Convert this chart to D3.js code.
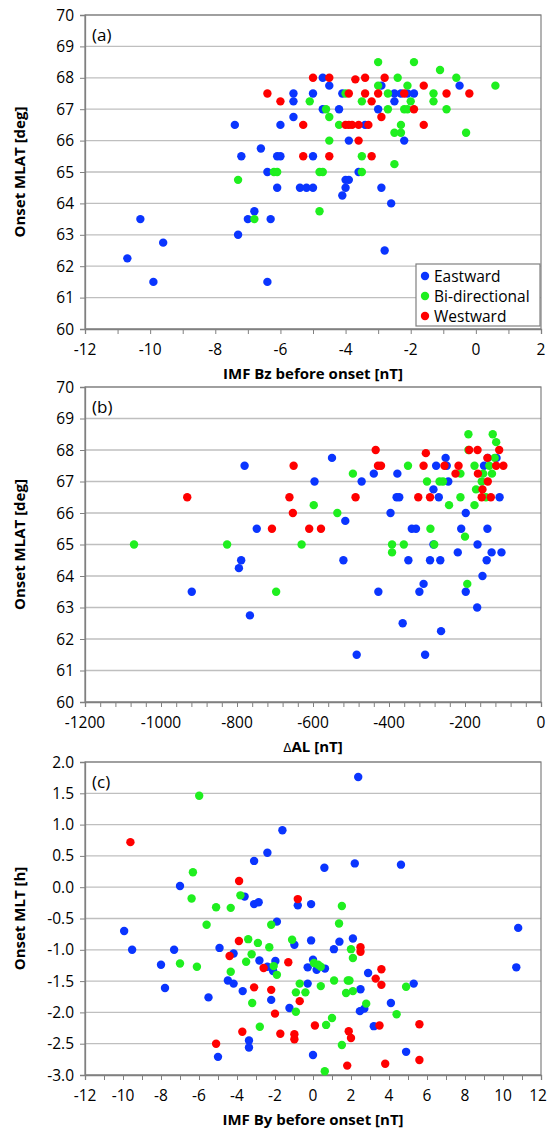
<!DOCTYPE html>
<html>
<head>
<meta charset="utf-8">
<script src="https://cdn.jsdelivr.net/npm/d3@7"></script>
<style>
  body { margin: 0; background: #fff; }
  svg { font-family: "Open Sans", Lato, sans-serif; }
  .tick-label { font-size: 15.5px; fill: #000; }
  .axis-title { font-size: 15px; font-weight: bold; fill: #000; }
</style>
</head>
<body>
<svg id="chart" width="548" height="1128"></svg>
<script>
// ---- data ----
var seriesNames = ['Eastward', 'Bi-directional', 'Westward'];
var seriesColors = ['#0a35ff', '#1fef1f', '#ff0000'];

// panel (a): IMF Bz [nT] vs onset MLAT [deg]
var bzEast = [[-7.4,66.5],[-7.2,65.5],[-6.6,65.75],[-6.4,65],[-6.1,65.5],[-6.0,65.5],[-6.1,64.5],[-6.0,66.5],[-5.6,67.5],[-5.6,67.25],[-5.6,66.75],[-5.4,64.5],[-5.2,64.5],[-5.0,64.5],[-5.0,67.5],[-5.0,65.5],[-4.7,68],[-4.5,67.75],[-4.7,67],[-4.2,67],[-4.1,67.5],[-3.9,66],[-4.0,64.75],[-3.9,64.75],[-4.0,64.5],[-4.1,64.25],[-3.6,65],[-3.4,66.5],[-3.0,67],[-2.9,67.75],[-2.9,64.5],[-2.5,67.25],[-2.5,67.5],[-2.3,67.5],[-2.2,66],[-2.1,67.5],[-1.9,67.5],[-0.5,67.75],[-2.6,64],[-10.7,62.25],[-10.3,63.5],[-9.9,61.5],[-9.6,62.75],[-7.3,63],[-7.0,63.5],[-6.8,63.75],[-6.3,63.5],[-6.4,61.5],[-2.8,62.5]];
var bzBi = [[-7.3,64.75],[-5.1,67.25],[-4.6,67],[-4.5,66.75],[-4.5,66],[-4.2,66.5],[-4.0,67.5],[-4.8,65],[-4.7,65],[-6.2,65],[-6.1,65],[-3.5,65.5],[-3.5,65],[-3.5,67.25],[-3.0,68.5],[-3.0,67.75],[-2.7,67.5],[-2.7,67],[-2.4,68],[-2.5,66.25],[-2.3,66.5],[-2.3,66.25],[-2.5,65.25],[-2.1,67.75],[-2.0,67.25],[-2.2,67],[-2.1,67],[-1.9,68.5],[-1.3,67.5],[-1.3,67.25],[-1.1,68.25],[-0.9,67],[-0.6,68],[-0.3,66.25],[0.6,67.75],[-6.8,63.5],[-4.8,63.75]];
var bzWest = [[-6.4,67.5],[-6.0,67.25],[-5.0,68],[-4.5,68],[-5.3,66.5],[-5.3,65.5],[-4.5,65.5],[-3.9,67.5],[-3.7,67.95],[-3.4,68],[-3.4,67.5],[-3.2,67.25],[-3.0,67.5],[-2.8,68],[-2.9,66.75],[-3.2,65.5],[-3.6,66],[-4.0,66.5],[-3.9,66.5],[-3.8,66.5],[-3.6,66.5],[-3.3,66.5],[-2.2,67.5],[-1.9,67],[-1.6,67.75],[-1.6,66.5],[-0.9,67.5],[-0.2,67.5]];

// panel (b): delta AL [nT] vs onset MLAT [deg]
var alEast = [[-780,67.5],[-550,67.75],[-596,67],[-748,65.5],[-515,65.75],[-472,67],[-440,67.25],[-378,67.25],[-380,66.5],[-373,66.5],[-396,66],[-340,65.5],[-329,65.5],[-283,65],[-276,67.5],[-283,66.75],[-269,66.5],[-251,67.75],[-248,67.5],[-244,67],[-210,65.5],[-198,66],[-167,65],[-150,67.5],[-141,65.5],[-140,67.75],[-117,67.75],[-109,66.5],[-219,64.75],[-104,64.75],[-789,64.5],[-795,64.25],[-919,63.5],[-766,62.75],[-520,64.5],[-485,61.5],[-428,63.5],[-364,62.5],[-349,64.5],[-309,63.75],[-320,63.5],[-305,61.5],[-292,64.5],[-265,64.5],[-263,62.25],[-198,63.5],[-168,63],[-154,64],[-143,64.5],[-130,64.75]];
var alBi = [[-1071,65],[-826,65],[-630,65],[-598,66.25],[-536,66],[-495,67.25],[-392,65],[-361,65],[-350,67.5],[-300,67],[-291,65.5],[-267,67],[-258,67],[-242,66.25],[-212,67.25],[-212,66.5],[-200,65.25],[-191,68.5],[-191,68],[-175,67.5],[-175,66.25],[-171,66.75],[-156,67],[-152,67.25],[-145,66.5],[-136,67.5],[-127,68.5],[-118,68.25],[-122,67.75],[-129,67.25],[-392,64.75],[-194,63.75],[-697,63.5],[-281,65]];
var alWest = [[-931,66.5],[-651,67.5],[-662,66.5],[-653,66],[-708,65.5],[-610,65.5],[-579,65.5],[-488,66.5],[-435,68],[-429,67.5],[-421,67.5],[-323,66.5],[-303,67.9],[-309,67.5],[-292,66.5],[-254,67.5],[-217,67.5],[-225,67.25],[-189,68],[-167,68],[-166,67.25],[-154,66.75],[-156,66.5],[-141,67.75],[-140,67],[-132,66.5],[-110,68],[-118,67.5],[-99,67.5]];

// panel (c): IMF By [nT] vs onset MLT [h]
var byEast = [[2.38,1.76],[-1.61,0.91],[-2.4,0.55],[-3.1,0.42],[0.6,0.31],[2.2,0.38],[4.63,0.36],[-7.0,0.02],[-3.6,-0.15],[-3.1,-0.27],[-2.86,-0.24],[-0.8,-0.29],[-0.1,-0.27],[-1.9,-0.55],[-9.94,-0.7],[-9.52,-1.0],[-7.31,-1.0],[-8.0,-1.24],[-7.79,-1.61],[-5.5,-1.76],[-4.92,-0.97],[-4.18,-1.06],[-4.48,-1.49],[-4.18,-1.54],[-3.7,-1.66],[-2.82,-1.17],[-2.4,-1.27],[-2.1,-1.34],[-1.98,-1.18],[-2.2,-1.8],[-0.98,-0.92],[-1.24,-1.93],[-0.1,-0.85],[0.0,-1.16],[-0.28,-1.28],[0.19,-1.32],[0.63,-1.3],[-0.28,-1.54],[1.1,-0.99],[1.39,-0.87],[2.1,-0.82],[2.5,-1.63],[2.47,-1.98],[2.7,-1.94],[2.9,-1.37],[3.2,-2.22],[4.1,-1.85],[4.9,-2.63],[5.3,-1.54],[-3.37,-2.45],[-3.37,-2.56],[-5.0,-2.71],[0.0,-2.68],[10.8,-0.65],[10.7,-1.28]];
var byBi = [[-5.99,1.46],[-6.32,0.24],[-6.39,-0.18],[-3.82,-0.13],[-5.1,-0.32],[-4.33,-0.33],[1.52,-0.3],[-7.0,-1.22],[-6.11,-1.27],[-5.6,-0.6],[-4.33,-1.35],[-3.52,-1.19],[-3.41,-0.83],[-3.23,-1.07],[-2.9,-0.89],[-2.3,-0.96],[-2.2,-0.6],[-2.07,-1.26],[-1.9,-1.4],[-3.2,-1.85],[-2.8,-2.23],[-1.1,-0.84],[-0.9,-1.99],[-0.9,-1.68],[-0.7,-1.54],[-0.4,-1.68],[0.05,-1.21],[0.27,-1.24],[0.41,-1.27],[0.41,-1.58],[1.11,-1.49],[1.0,-2.09],[0.69,-2.2],[0.62,-2.94],[1.37,-0.58],[1.52,-2.52],[1.74,-1.69],[1.83,-1.49],[1.92,-1.49],[2.0,-0.99],[2.1,-1.13],[2.1,-1.66],[2.8,-1.86],[4.4,-2.03],[4.9,-1.59]];
var byWest = [[-9.61,0.72],[-3.89,0.1],[-0.8,-0.19],[-3.9,-0.86],[-4.39,-1.1],[-2.6,-1.29],[-3.1,-1.6],[-2.2,-1.64],[-2.0,-2.02],[-1.3,-1.2],[-0.7,-1.82],[-3.72,-2.31],[-5.1,-2.5],[-1.72,-2.34],[-0.98,-2.35],[-0.98,-2.43],[0.1,-2.21],[1.88,-2.3],[2.0,-2.41],[1.8,-2.85],[2.5,-0.96],[2.5,-1.03],[3.3,-1.46],[3.6,-1.31],[3.6,-1.56],[3.5,-2.21],[3.8,-2.82],[5.6,-2.19],[5.6,-2.76]];

// tick values
var bzTicks = d3.range(-12, 3, 2);
var alTicks = d3.range(-1200, 1, 200);
var byTicks = d3.range(-12, 13, 2);
var mlatTicks = d3.range(60, 71, 1);
var mltTicks = d3.range(-3, 2.01, 0.5);

// ---- drawing ----
var svg = d3.select('#chart');
var plotLeft = 85, plotRight = 541;

// excel style labels use a plain hyphen for negatives
function hyphen(fmt) {
    return function (d) { return fmt(d).replace(/\u2212/g, '-'); };
}

var panels = [
    { tag: '(a)', top: 15, bottom: 329, xDomain: [-12, 2], yDomain: [60, 70],
      xTicks: bzTicks, xMinor: 1, yTicks: mlatTicks, yFmt: d3.format('d'),
      xTitle: 'IMF Bz before onset [nT]', yTitle: 'Onset MLAT [deg]',
      series: [bzEast, bzBi, bzWest], legend: true },
    { tag: '(b)', top: 387, bottom: 702, xDomain: [-1200, 0], yDomain: [60, 70],
      xTicks: alTicks, xMinor: 40, yTicks: mlatTicks, yFmt: d3.format('d'),
      xTitle: 'AL [nT]', delta: true, yTitle: 'Onset MLAT [deg]',
      series: [alEast, alBi, alWest] },
    { tag: '(c)', top: 762, bottom: 1075, xDomain: [-12, 12], yDomain: [-3, 2],
      xTicks: byTicks, xMinor: 1, yTicks: mltTicks, yFmt: d3.format('.1f'),
      xTitle: 'IMF By before onset [nT]', yTitle: 'Onset MLT [h]',
      series: [byEast, byBi, byWest] }
];

panels.forEach(function (p) {
    var x = d3.scaleLinear().domain(p.xDomain).range([plotLeft, plotRight]);
    var y = d3.scaleLinear().domain(p.yDomain).range([p.bottom, p.top]);
    var g = svg.append('g');

    // horizontal gridlines
    g.selectAll('line.grid')
        .data(p.yTicks)
        .enter()
        .append('line')
        .attr('x1', plotLeft).attr('x2', plotRight)
        .attr('y1', function (d) { return y(d); })
        .attr('y2', function (d) { return y(d); })
        .attr('stroke', '#bfbfbf')
        .attr('stroke-width', 1.3);

    // plot frame
    g.append('rect')
        .attr('x', plotLeft).attr('y', p.top)
        .attr('width', plotRight - plotLeft).attr('height', p.bottom - p.top)
        .attr('fill', 'none')
        .attr('stroke', '#808080')
        .attr('stroke-width', 1.2);

    // x axis with minor ticks
    var minor = d3.range(p.xDomain[0], p.xDomain[1] + 1e-9, p.xMinor);
    var xAxis = d3.axisBottom(x).tickValues(minor).tickSize(5).tickFormat('');
    var ax = g.append('g')
        .attr('transform', 'translate(0,' + p.bottom + ')')
        .call(xAxis);
    ax.select('.domain').attr('stroke', '#808080').attr('stroke-width', 1.3);
    ax.selectAll('.tick line').attr('stroke', '#808080');

    var xFmt = hyphen(d3.format('d'));
    g.selectAll('text.xlab')
        .data(p.xTicks)
        .enter()
        .append('text')
        .attr('class', 'tick-label')
        .attr('x', function (d) { return x(d); })
        .attr('y', p.bottom + 26)
        .attr('text-anchor', 'middle')
        .text(xFmt)
        .each(function () {
            // keep the last label inside the page
            var b = this.getBBox();
            if (b.x + b.width > 547) {
                d3.select(this).attr('x', +d3.select(this).attr('x') - (b.x + b.width - 547));
            }
        });

    // y axis
    var yAxis = d3.axisLeft(y).tickValues(p.yTicks).tickSize(5).tickFormat('');
    var ay = g.append('g')
        .attr('transform', 'translate(' + plotLeft + ',0)')
        .call(yAxis);
    ay.select('.domain').attr('stroke', '#808080').attr('stroke-width', 1.3);
    ay.selectAll('.tick line').attr('stroke', '#808080');

    var yFmt = hyphen(p.yFmt);
    g.selectAll('text.ylab')
        .data(p.yTicks)
        .enter()
        .append('text')
        .attr('class', 'tick-label')
        .attr('x', plotLeft - 11)
        .attr('y', function (d) { return y(d) + 5.5; })
        .attr('text-anchor', 'end')
        .text(yFmt);

    // titles
    var xt = g.append('text')
        .attr('class', 'axis-title')
        .attr('x', (plotLeft + plotRight) / 2)
        .attr('y', p.bottom + 50)
        .attr('text-anchor', 'middle');
    if (p.delta) {
        xt.append('tspan').attr('font-size', 12).attr('font-weight', 'normal')
            .attr('font-family', 'DejaVu Sans').text('\u0394');
    }
    xt.append('tspan').text(p.xTitle);

    g.append('text')
        .attr('class', 'axis-title')
        .attr('transform', 'translate(25,' + ((p.top + p.bottom) / 2) + ') rotate(-90)')
        .attr('text-anchor', 'middle')
        .text(p.yTitle);

    g.append('text')
        .attr('x', plotLeft + 7)
        .attr('y', p.top + 26)
        .attr('font-size', 17)
        .text(p.tag);

    // markers: Eastward, then Bi-directional, then Westward on top
    p.series.forEach(function (pts, i) {
        g.append('g')
            .selectAll('circle')
            .data(pts)
            .enter()
            .append('circle')
            .attr('cx', function (d) { return x(d[0]); })
            .attr('cy', function (d) { return y(d[1]); })
            .attr('r', 4.2)
            .attr('fill', seriesColors[i]);
    });

    if (p.legend) {
        var lg = g.append('g').attr('transform', 'translate(416,264)');
        lg.append('rect')
            .attr('width', 124).attr('height', 62)
            .attr('fill', '#fff')
            .attr('stroke', '#808080')
            .attr('stroke-width', 1.2);
        var items = lg.selectAll('g')
            .data(seriesNames)
            .enter()
            .append('g')
            .attr('transform', function (d, i) { return 'translate(0,' + (12 + i * 20) + ')'; });
        items.append('circle')
            .attr('cx', 9).attr('cy', 0).attr('r', 4.2)
            .attr('fill', function (d, i) { return seriesColors[i]; });
        items.append('text')
            .attr('class', 'tick-label')
            .attr('x', 18).attr('y', 5.5)
            .text(function (d) { return d; });
    }
});
</script>
</body>
</html>
